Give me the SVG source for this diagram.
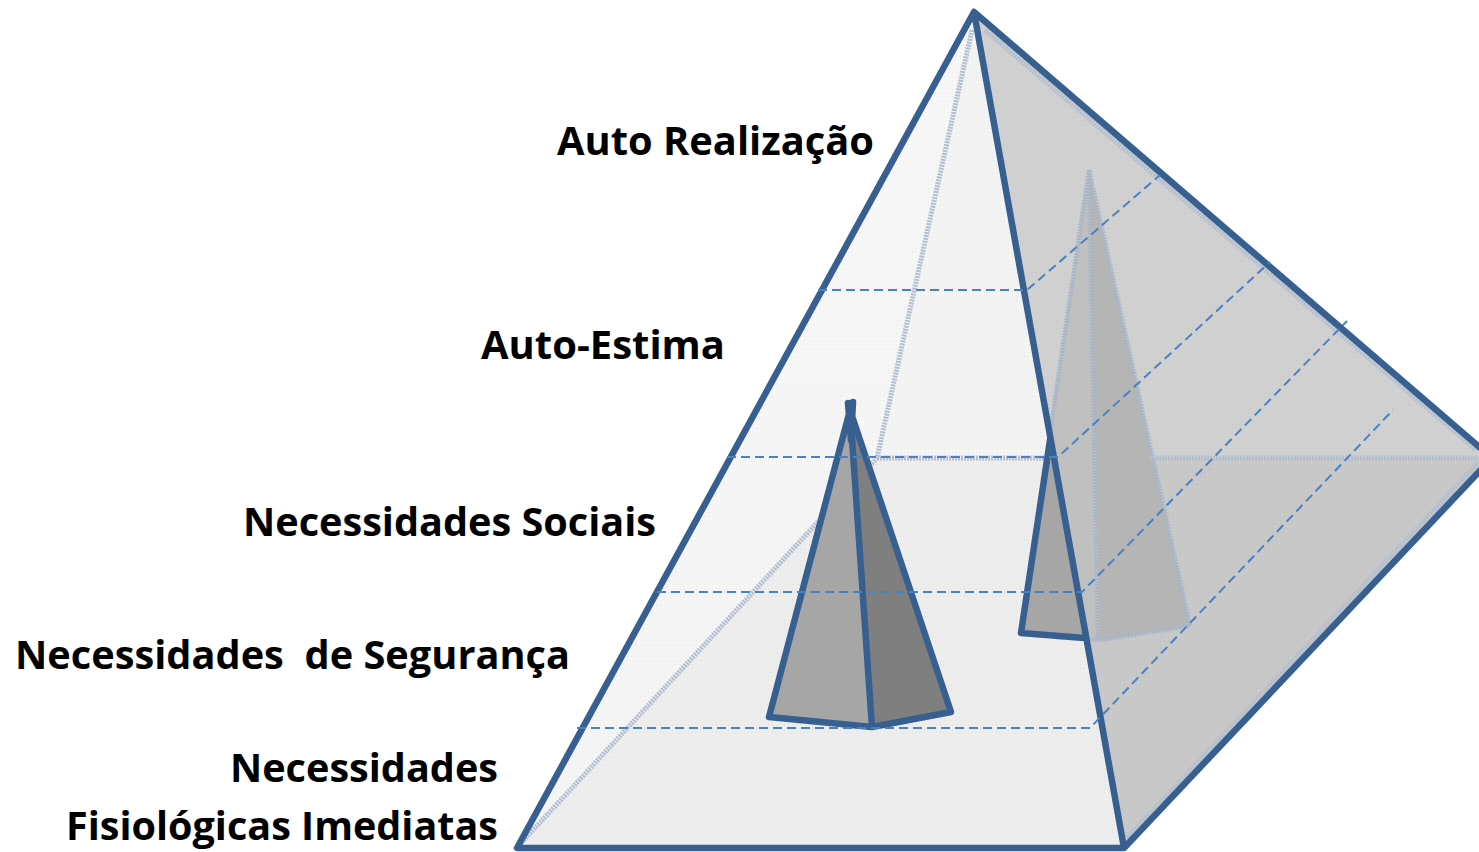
<svg xmlns="http://www.w3.org/2000/svg" width="1479" height="852" viewBox="0 0 1479 852">
<style>
.lbl{font-family:"Open Sans","Liberation Sans",sans-serif;font-weight:700;font-size:39px;fill:#000;white-space:pre}
.edge{fill:none;stroke:#375f90;stroke-width:6.5;stroke-linejoin:round;stroke-linecap:round}
.back{fill:none;stroke:#b3bfd0;stroke-width:5;stroke-dasharray:2 1}
.ghost{fill:none;stroke:#a8b5c7;stroke-width:4.5;stroke-dasharray:2 1}
.dash{fill:none;stroke:#4a80c4;stroke-width:2;stroke-dasharray:9 5}
</style>
<defs>
<pattern id="weave" width="4" height="4" patternUnits="userSpaceOnUse"><path d="M0 0H4M0 0V4" stroke="#000" stroke-opacity=".025" stroke-width="1"/></pattern>
<linearGradient id="lf" x1="0" y1="0" x2="0" y2="1"><stop offset="0" stop-color="#f8f8f8"/><stop offset="1" stop-color="#f5f5f5"/></linearGradient>
</defs>
<rect width="1479" height="852" fill="#fff"/>
<g id="pyramid-faces">
<polygon points="974,12 877,458 517,848" fill="url(#lf)"/>
<polygon points="974,12 877,458 1053,458" fill="#f4f4f4"/>
<polygon points="517,848 877,458 1053,458 1124,848" fill="#eeeeee"/>
<polygon points="974,12 1492,458 1053,458" fill="#d1d1d1"/>
<polygon points="1053,458 1492,458 1124,848" fill="#c9c9c9"/>
<polygon points="517,848 974,12 1053,458 1124,848" fill="url(#weave)"/>
<polygon points="974,12 1492,458 1124,848" fill="url(#weave)"/>
</g>
<g id="inner-pyramid-back">
<polygon points="1089,170 1048,440 1020,633 1100,640 1190,626" fill="#c0c0c0"/>
<polygon points="1089,170 1100,640 1190,626" fill="#b5b5b5"/>
<path class="ghost" d="M1089,170 L1049,440M1089,170 L1190,626 L1100,640 L1056,637M1089,170 L1098,640"/>
</g>
<g id="pyramid-back-edges">
<path class="back" d="M972,30 L877,458 L522,842M877,458 H1053"/>
<path class="back" d="M1150,458 H1478"/>
<path class="back" d="M985,30 L1476,450"/>
<path fill="none" stroke="#dcdcdc" stroke-width="3" d="M1130,843 L1479,470"/>
<path class="back" d="M1127,838 L1478,463"/>
</g>
<g id="inner-pyramid-front">
<polygon points="1050,440 1021,633 1085,638" fill="#a6a6a6"/>
<path class="edge" d="M1050,440 L1021,633 L1085,638"/>
</g>
<g id="pyramid-outline">
<path class="edge" d="M974,12 L517,848 H1124 L1492,458 L974,12 L1124,848"/>
</g>
<g id="small-pyramid">
<polygon points="850,410 769,717 872,727" fill="#a6a6a6"/>
<polygon points="850,410 872,727 951,712" fill="#7f7f7f"/>
<path class="edge" d="M848,403 L851,440M853,402 L851,440M850,410 L769,717 L872,727 L951,712 L850,410 L872,727"/>
</g>
<g id="connectors">
<path class="dash" d="M818,290 H1027 L1160,175"/>
<path class="dash" d="M727,457 H1058 L1270,262"/>
<path class="dash" d="M657,592 H1082 L1347,321"/>
<path class="dash" d="M577,728 H1090 L1393,410"/>
</g>
<g id="labels">
<text class="lbl" x="557" y="155" textLength="317" lengthAdjust="spacingAndGlyphs">Auto Realização</text>
<text class="lbl" x="481" y="359" textLength="244" lengthAdjust="spacingAndGlyphs">Auto-Estima</text>
<text class="lbl" x="243" y="536" textLength="413" lengthAdjust="spacingAndGlyphs">Necessidades Sociais</text>
<text class="lbl" x="15" y="669" textLength="555" lengthAdjust="spacingAndGlyphs">Necessidades  de Segurança</text>
<text class="lbl" x="230" y="782" textLength="268" lengthAdjust="spacingAndGlyphs">Necessidades</text>
<text class="lbl" x="66" y="840" textLength="432" lengthAdjust="spacingAndGlyphs">Fisiológicas Imediatas</text>
</g>
</svg>
